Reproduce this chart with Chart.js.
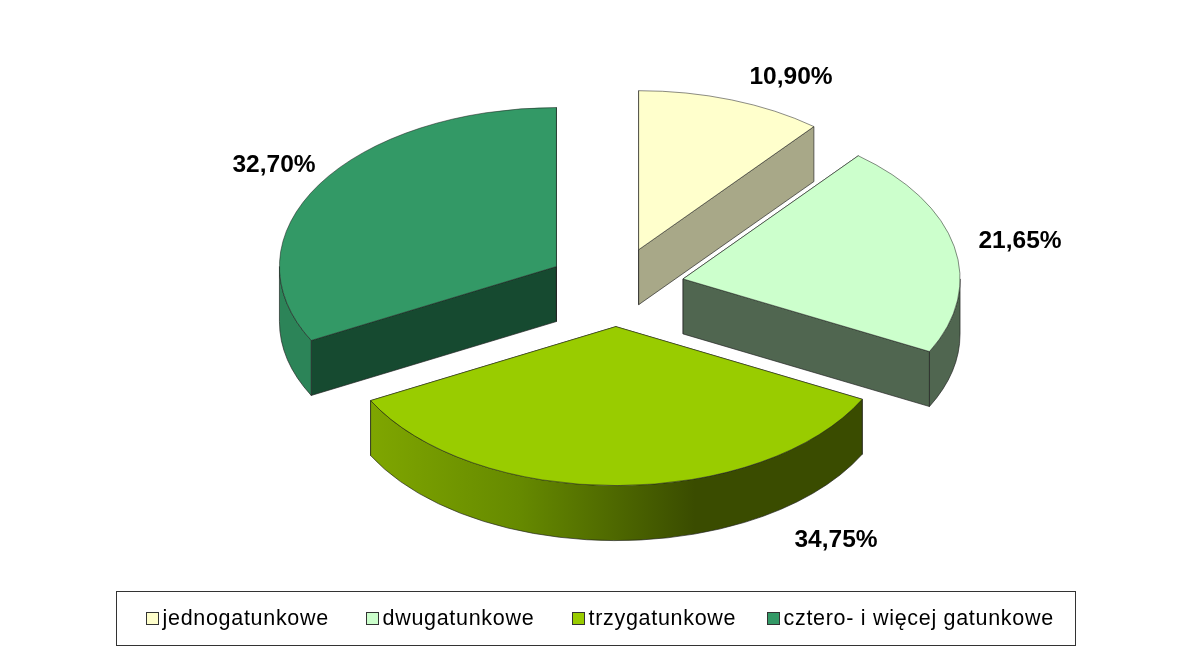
<!DOCTYPE html>
<html lang="pl">
<head>
<meta charset="utf-8">
<title>Wykres</title>
<style>
    html, body { margin: 0; padding: 0; background: #fff; }
    #wrap { width: 1184px; height: 668px; }
</style>
<script src="https://cdn.jsdelivr.net/npm/chart.js@4/dist/chart.umd.min.js"></script>
</head>
<body>
<div id="wrap"><canvas id="pieChart" width="1184" height="668"></canvas></div>
<script>
const categories = ['jednogatunkowe', 'dwugatunkowe', 'trzygatunkowe', 'cztero- i więcej gatunkowe'];
const shares = [10.9, 21.65, 34.75, 32.7];

const topColors = ['#FFFFCC', '#CCFFCC', '#99CC00', '#339966'];
const wallColors = ['#A8A888', '#506650', '#3A4C00', '#164A30'];
const rimColors = ['#A8A888', '#506650', null, '#2C8458'];
const labelCenters = [[791, 77], [1020, 241], [836, 540], [274, 165]];
const legendX = [146, 366, 572, 767];

const squash = 0.574;
const depth = 55;
const explode = 69;
const edgeColor = 'rgba(30, 30, 30, 0.65)';
const fontFamily = '"Liberation Sans", Arial, sans-serif';

// centre of a slice after it is pulled out, before flattening
const sliceShift = (arc) => {
    const mid = (arc.startAngle + arc.endAngle) / 2;
    return [Math.cos(mid) * explode, Math.sin(mid) * explode];
};

// a point of a slice on screen
const project = (arc, angle, radius) => {
    const shift = sliceShift(arc);
    return [
        arc.x + shift[0] + Math.cos(angle) * radius,
        arc.y + squash * (shift[1] + Math.sin(angle) * radius)
    ];
};

const drawEdgeWall = (ctx, arc, angle, color) => {
    const tip = project(arc, angle, 0);
    const end = project(arc, angle, arc.outerRadius);
    ctx.beginPath();
    ctx.moveTo(tip[0], tip[1]);
    ctx.lineTo(end[0], end[1]);
    ctx.lineTo(end[0], end[1] + depth);
    ctx.lineTo(tip[0], tip[1] + depth);
    ctx.closePath();
    ctx.fillStyle = color;
    ctx.fill();
    ctx.stroke();
};

const drawRim = (ctx, arc, fill) => {
    const from = Math.max(arc.startAngle, 0);
    const to = Math.min(arc.endAngle, Math.PI);
    if (to <= from) return;
    const c = project(arc, 0, 0);
    const r = arc.outerRadius;
    ctx.beginPath();
    ctx.ellipse(c[0], c[1], r, r * squash, 0, from, to);
    ctx.ellipse(c[0], c[1] + depth, r, r * squash, 0, to, from, true);
    ctx.closePath();
    ctx.fillStyle = fill;
    ctx.fill();
    ctx.stroke();
};

// pie with its slices pulled apart and flattened, walls under each top
class SolidPieController extends Chart.PieController {
    draw() {
        const ctx = this.chart.ctx;
        const arcs = this._cachedMeta.data;
        ctx.save();
        ctx.lineWidth = 1;
        ctx.strokeStyle = edgeColor;
        arcs.forEach((arc, i) => {
            drawEdgeWall(ctx, arc, arc.startAngle, wallColors[i]);
            drawEdgeWall(ctx, arc, arc.endAngle, wallColors[i]);
            let fill = rimColors[i];
            if (!fill) {
                // the front slice is the only one with a shaded rim
                const a = project(arc, arc.startAngle, arc.outerRadius);
                const b = project(arc, arc.endAngle, arc.outerRadius);
                fill = ctx.createLinearGradient(b[0], 0, a[0], 0);
                fill.addColorStop(0, '#7FA600');
                fill.addColorStop(0.3, '#668A00');
                fill.addColorStop(0.66, '#3A4C00');
                fill.addColorStop(1, '#3A4C00');
            }
            drawRim(ctx, arc, fill);
        });
        ctx.restore();

        arcs.forEach((arc) => {
            const shift = sliceShift(arc);
            ctx.save();
            ctx.translate(shift[0], arc.y);
            ctx.scale(1, squash);
            ctx.translate(0, shift[1] - arc.y);
            arc.draw(ctx);
            ctx.restore();
        });
    }
}
SolidPieController.id = 'solidPie';
SolidPieController.defaults = {};
Chart.register(SolidPieController);

const pieTexts = {
    id: 'pieTexts',
    afterDatasetsDraw(chart) {
        const ctx = chart.ctx;
        ctx.save();
        ctx.fillStyle = '#000';
        ctx.font = 'bold 24.5px ' + fontFamily;
        ctx.textAlign = 'center';
        ctx.textBaseline = 'middle';
        shares.forEach((v, i) => {
            ctx.fillText(v.toFixed(2).replace('.', ',') + '%', labelCenters[i][0], labelCenters[i][1]);
        });
        ctx.restore();

        // legend
        ctx.save();
        ctx.strokeStyle = '#333';
        ctx.lineWidth = 1;
        ctx.strokeRect(116.5, 591.5, 959, 54);
        ctx.font = '21.5px ' + fontFamily;
        ctx.letterSpacing = '0.7px';
        ctx.textBaseline = 'alphabetic';
        categories.forEach((name, i) => {
            const x = legendX[i];
            ctx.fillStyle = topColors[i];
            ctx.fillRect(x + 0.5, 612.5, 12, 12);
            ctx.strokeRect(x + 0.5, 612.5, 12, 12);
            ctx.fillStyle = '#000';
            ctx.fillText(name, x + 16.5, 625);
        });
        ctx.restore();
    }
};

document.addEventListener('DOMContentLoaded', function () {
    new Chart(document.getElementById('pieChart').getContext('2d'), {
        type: 'solidPie',
        data: {
            labels: categories,
            datasets: [{
                data: shares,
                backgroundColor: topColors,
                borderColor: edgeColor,
                borderWidth: 1,
                hoverOffset: 0
            }]
        },
        options: {
            responsive: false,
            animation: false,
            radius: 277,
            layout: { padding: { left: 47, bottom: 94 } },
            plugins: {
                legend: { display: false },
                tooltip: { enabled: false }
            }
        },
        plugins: [pieTexts]
    });
});
</script>
</body>
</html>
